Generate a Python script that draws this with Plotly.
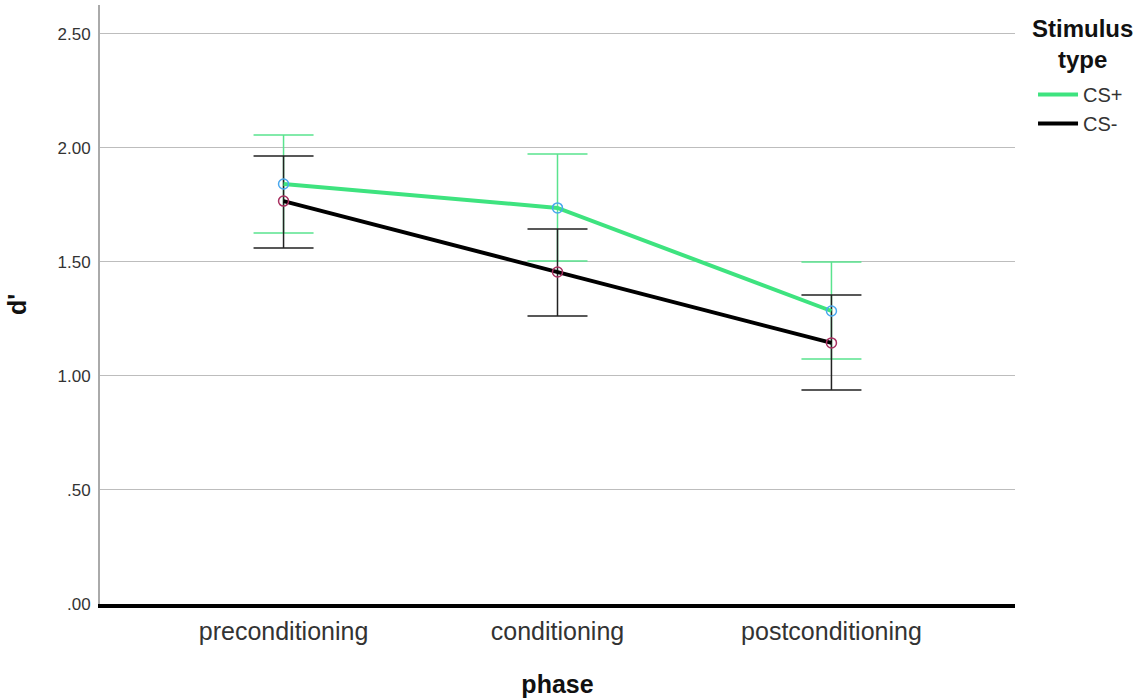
import plotly.graph_objects as go

phases = ["preconditioning", "conditioning", "postconditioning"]
cs_plus = [1.842, 1.737, 1.285]
cs_plus_hi = [2.057, 1.974, 1.500]
cs_plus_lo = [1.627, 1.504, 1.075]
cs_minus = [1.767, 1.456, 1.145]
cs_minus_hi = [1.965, 1.645, 1.355]
cs_minus_lo = [1.561, 1.263, 0.939]
ytick_vals = [0, 0.5, 1.0, 1.5, 2.0, 2.5]
ytick_text = [".00", ".50", "1.00", "1.50", "2.00", "2.50"]
legend_title = "Stimulus<br>type"

xpos = list(range(len(phases)))
FONT = "Liberation Sans, Arial, sans-serif"

def err(vals, hi, lo):
    return dict(type="data", symmetric=False,
                array=[h - v for h, v in zip(hi, vals)],
                arrayminus=[v - l for v, l in zip(vals, lo)])

fig = go.Figure()

fig.add_trace(go.Scatter(
    x=xpos, y=cs_plus, mode="markers", showlegend=False, hoverinfo="skip",
    marker=dict(size=1, color="rgba(0,0,0,0)"),
    error_y=dict(**err(cs_plus, cs_plus_hi, cs_plus_lo), color="#5ae38e", thickness=1.5, width=30)))
fig.add_trace(go.Scatter(
    x=xpos, y=cs_minus, mode="markers", showlegend=False, hoverinfo="skip",
    marker=dict(size=1, color="rgba(0,0,0,0)"),
    error_y=dict(**err(cs_minus, cs_minus_hi, cs_minus_lo), color="#222222", thickness=1.5, width=30)))

fig.add_trace(go.Scatter(
    x=xpos, y=cs_plus, mode="lines", name="CS+",
    line=dict(color="#3ee37f", width=4)))
fig.add_trace(go.Scatter(
    x=xpos, y=cs_minus, mode="lines", name="CS-",
    line=dict(color="#000000", width=4)))

fig.add_trace(go.Scatter(
    x=xpos, y=cs_plus, mode="markers", showlegend=False,
    marker=dict(symbol="circle-open", size=10, color="#4aa8ee", line=dict(width=1.5))))
fig.add_trace(go.Scatter(
    x=xpos, y=cs_minus, mode="markers", showlegend=False,
    marker=dict(symbol="circle-open", size=10, color="#a83060", line=dict(width=1.5))))

fig.add_annotation(
    text="<b>" + legend_title + "</b>", xref="paper", yref="paper",
    x=1.0743, y=0.9866, xanchor="center", yanchor="top", align="center",
    showarrow=False, font=dict(size=24, color="#111111", family=FONT))

fig.update_layout(
    width=1143, height=700,
    margin=dict(l=100, r=128, t=5, b=96),
    paper_bgcolor="white", plot_bgcolor="white",
    font=dict(family=FONT, color="#222222"),
    xaxis=dict(
        tickvals=xpos, ticktext=phases, range=[-0.67, 2.67],
        showgrid=False, zeroline=False, automargin=False,
        showline=True, linecolor="black", linewidth=4,
        ticks="", ticklabelstandoff=2,
        tickfont=dict(size=25, color="#333333", family=FONT),
        title=dict(text="<b>phase</b>", font=dict(size=25, color="#111111"), standoff=32)),
    yaxis=dict(
        tickvals=ytick_vals, ticktext=ytick_text, range=[0, 2.627],
        showgrid=True, gridcolor="#bdbdbd", gridwidth=1,
        zeroline=False, automargin=False,
        showline=True, linecolor="#aaaaaa", linewidth=2,
        ticks="", ticklabelstandoff=4,
        tickfont=dict(size=17, color="#333333", family=FONT),
        title=dict(text="<b>d'</b>", font=dict(size=25, color="#111111"), standoff=24)),
    legend=dict(
        x=1.0197, y=0.883, xanchor="left", yanchor="top",
        font=dict(size=20, color="#333333"),
        tracegroupgap=0, itemwidth=40, bgcolor="rgba(0,0,0,0)"),
)

fig.write_html("out.html", config={"displayModeBar": False},
               post_script="document.body.style.margin='0';document.body.style.padding='0';")
